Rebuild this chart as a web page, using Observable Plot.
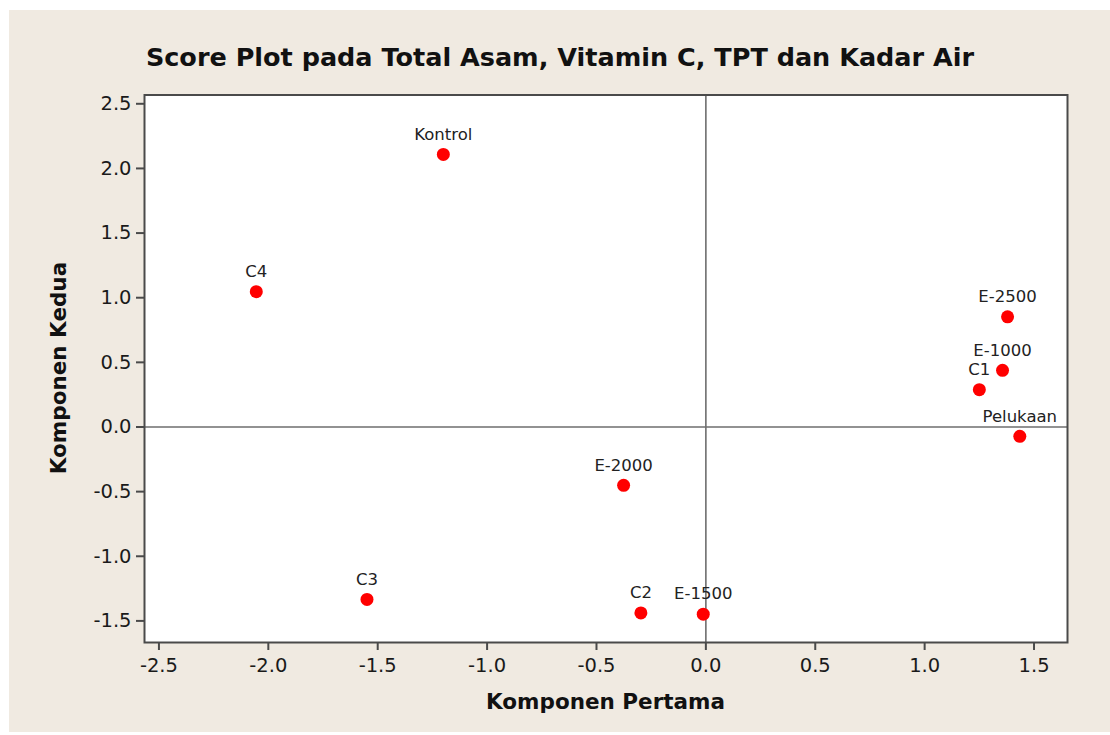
<!DOCTYPE html>
<html>
<head>
<meta charset="utf-8">
<script src="https://cdn.jsdelivr.net/npm/d3@7"></script>
<script src="https://cdn.jsdelivr.net/npm/@observablehq/plot@0.6"></script>
<style>
  html, body { margin: 0; padding: 0; background: #ffffff; }
  #page { position: relative; width: 1110px; height: 735px; overflow: hidden; }
  #panel { position: absolute; left: 9px; top: 10px; width: 1101px; height: 722px; background: #f0eae1; }
  #title { position: absolute; left: 0; width: 1120px; top: 42px; text-align: center;
           font-family: "DejaVu Sans", sans-serif; font-weight: bold; font-size: 25.5px; color: #111; }
  #xlabel { position: absolute; left: 144px; width: 923px; top: 689px; text-align: center;
           font-family: "DejaVu Sans", sans-serif; font-weight: bold; font-size: 21.5px; color: #111; }
  #ylabel { position: absolute; left: 58px; top: 368px; transform: translate(-50%, -50%) rotate(-90deg);
           white-space: nowrap; font-family: "DejaVu Sans", sans-serif; font-weight: bold; font-size: 21.5px; color: #111; }
  #chart { position: absolute; left: 0; top: 0; }
</style>
</head>
<body>
<div id="page">
  <div id="panel"></div>
  <div id="chart"></div>
  <div id="title">Score Plot pada Total Asam, Vitamin C, TPT dan Kadar Air</div>
  <div id="xlabel">Komponen Pertama</div>
  <div id="ylabel">Komponen Kedua</div>
</div>
<script>
const labels = ["Kontrol", "C4", "E-2500", "E-1000", "C1", "Pelukaan", "E-2000", "C2", "E-1500", "C3"];
const komponenPertama = [-1.20, -2.055, 1.379, 1.356, 1.25, 1.435, -0.376, -0.297, -0.012, -1.549];
const komponenKedua = [2.108, 1.047, 0.852, 0.438, 0.289, -0.072, -0.451, -1.438, -1.448, -1.334];
const xTicks = [-2.5, -2.0, -1.5, -1.0, -0.5, 0.0, 0.5, 1.0, 1.5];
const yTicks = [-1.5, -1.0, -0.5, 0.0, 0.5, 1.0, 1.5, 2.0, 2.5];

const data = labels.map((name, i) => ({name, x: komponenPertama[i], y: komponenKedua[i]}));
const fmt = d => d.toFixed(1);

const chart = Plot.plot({
  width: 1110,
  height: 735,
  marginLeft: 144,
  marginRight: 43,
  marginTop: 94.5,
  marginBottom: 93,
  style: {background: "transparent", fontFamily: "DejaVu Sans, sans-serif", color: "#222"},
  x: {domain: [-2.566, 1.653]},
  y: {domain: [-1.667, 2.568]},
  marks: [
    Plot.frame({fill: "white", stroke: "none"}),
    Plot.ruleX([0], {stroke: "#6e6e6e", strokeWidth: 1.6}),
    Plot.ruleY([0], {stroke: "#6e6e6e", strokeWidth: 1.6}),
    Plot.frame({stroke: "#4a4a4a", strokeWidth: 2}),
    Plot.axisX({ticks: xTicks, tickFormat: fmt, tickSize: 8, tickPadding: 8, fontSize: 19.5, strokeWidth: 2, stroke: "#4a4a4a", fill: "#1a1a1a", label: null}),
    Plot.axisY({ticks: yTicks, tickFormat: fmt, tickSize: 8, tickPadding: 5, fontSize: 19.5, strokeWidth: 2, stroke: "#4a4a4a", fill: "#1a1a1a", label: null}),
    Plot.dot(data, {x: "x", y: "y", r: 6.5, fill: "#ff0000", stroke: "none"}),
    Plot.text(data, {x: "x", y: "y", text: "name", dy: -20, fontSize: 16.5, fill: "#222"})
  ]
});
document.getElementById("chart").appendChild(chart);
</script>
</body>
</html>
